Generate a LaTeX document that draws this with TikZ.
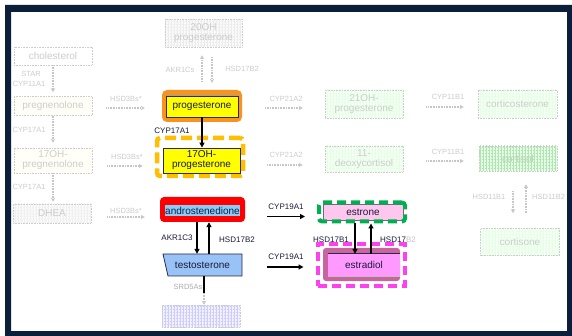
\documentclass[tikz,border=0pt]{standalone}
\usepackage{fontspec}
\setmainfont{Liberation Sans}
\usetikzlibrary{arrows.meta,patterns,calc}
\definecolor{navyC}{HTML}{0B1F3A}
\definecolor{orangeC}{HTML}{F7931E}
\definecolor{goldC}{HTML}{FFBE00}
\definecolor{skyC}{HTML}{87CEFA}
\definecolor{testoC}{HTML}{99C2F7}
\definecolor{pinkC}{HTML}{FFC6EE}
\definecolor{greenC}{HTML}{00B050}
\definecolor{magC}{HTML}{FF40F0}
\definecolor{mauveC}{HTML}{C8649E}
\definecolor{pinkB}{HTML}{FF99FF}
\definecolor{boxline}{HTML}{2B2B45}
\definecolor{txtC}{HTML}{1A1A3A}
\definecolor{yelC}{HTML}{FFFF00}
\begin{document}
\begin{tikzpicture}[x=1pt,y=-1pt,
  fbox/.style={draw=gray!40, densely dotted, line width=0.6pt, text=gray!40,
    font=\fontsize{10}{10}\selectfont, align=center, inner sep=0pt},
  flab/.style={text=gray!40, font=\fontsize{7.5}{8}\selectfont, inner sep=0pt},
  farr/.style={draw=gray!45, line width=1.4pt, dash pattern=on 1pt off 0.6pt,
    -{Stealth[open, length=4pt, width=4.5pt, line width=0.6pt]}},
  mlab/.style={text=txtC, font=\fontsize{8}{9}\selectfont, inner sep=0pt},
  marr/.style={draw=black, line width=1.4pt, -{Triangle[length=5pt, width=5pt]}},
  mtext/.style={font=\fontsize{10}{10}\selectfont, text=txtC, align=center, inner sep=0pt},
  ybox/.style={fill=yelC, draw=boxline, line width=0.8pt, mtext}
]
\useasboundingbox (0,0) rectangle (572,336);
\fill[white] (0,0) rectangle (572,336);

% ---------- faded nodes ----------
\node[fbox, fill=white, minimum width=78pt, minimum height=18pt] (chol) at (53,56) {cholesterol};
\node[fbox, fill=yellow!3, minimum width=78pt, minimum height=19pt] (preg) at (53,106) {pregnenolone};
\node[fbox, fill=yellow!3, minimum width=78pt, minimum height=25pt] (ohpreg) at (53,160.5) {17OH-\\pregnenolone};
\node[fbox, preaction={fill=gray!5}, pattern=grid, pattern color=gray!12, minimum width=78pt, minimum height=19pt] (dhea) at (52,213.5) {DHEA};
\node[fbox, preaction={fill=gray!5}, pattern=grid, pattern color=gray!15, minimum width=77pt, minimum height=28pt] (oh20) at (203.5,33) {20OH\\progesterone};
\node[fbox, preaction={fill=green!4}, pattern=grid, pattern color=green!10, minimum width=78pt, minimum height=28pt] (oh21) at (364,104) {21OH-\\progesterone};
\node[fbox, preaction={fill=green!4}, pattern=grid, pattern color=green!10, minimum width=78pt, minimum height=26pt] (deoxy) at (364,159) {11-\\deoxycortisol};
\node[fbox, preaction={fill=green!4}, pattern=grid, pattern color=green!10, minimum width=79pt, minimum height=28pt] (cortico) at (517.5,104) {corticosterone};
\node[fbox, preaction={fill=green!12}, pattern=grid, pattern color=green!40!gray!40, minimum width=78pt, minimum height=25pt, text=green!20!gray!45] (cortisol) at (518,158.5) {cortisol};
\node[fbox, preaction={fill=green!4}, pattern=grid, pattern color=green!10, minimum width=79pt, minimum height=27pt] (cortisone) at (520,242) {cortisone};
\node[fbox, preaction={fill=blue!6}, pattern=grid, pattern color=blue!20, minimum width=78pt, minimum height=22pt] (dht) at (201,316) {};

% faded labels
\node[flab] at (31,74) {STAR};
\node[flab] at (29,84) {CYP11A1};
\node[flab] at (29,130) {CYP17A1};
\node[flab] at (29,187) {CYP17A1};
\node[flab] at (126,99) {HSD3Bs*};
\node[flab] at (127,157) {HSD3Bs*};
\node[flab] at (126,211) {HSD3Bs*};
\node[flab] at (180,70) {AKR1Cs};
\node[flab] at (242,69) {HSD17B2};
\node[flab] at (286,99) {CYP21A2};
\node[flab] at (286,155) {CYP21A2};
\node[flab] at (448,97) {CYP11B1};
\node[flab] at (448,152) {CYP11B1};
\node[flab] at (489,197) {HSD11B1};
\node[flab, anchor=west] at (532,197) {HSD11B2};

% ---------- main nodes ----------
\node[fill=orangeC, rounded corners=5pt, minimum width=80pt, minimum height=32pt, inner sep=0pt] (progO) at (202,106) {};
\node[ybox, minimum width=72pt, minimum height=21pt] (prog) at (202,106.5) {progesterone};
\draw[gray!75, line width=1.6pt] (prog.north west) -- (prog.north east);

\node[draw=goldC, line width=4.5pt, dash pattern=on 11pt off 5pt, rounded corners=3pt, minimum width=86pt, minimum height=38pt, inner sep=0pt] (ohprogO) at (200,157) {};
\node[ybox, minimum width=77pt, minimum height=25pt] (ohprog) at (201.5,160.5) {17OH-\\progesterone};

\node[fill=red, rounded corners=4pt, minimum width=85pt, minimum height=25pt, inner sep=0pt] (androO) at (202.5,209.5) {};
\node[fill=skyC, minimum width=74pt, minimum height=11pt, mtext] (andro) at (202.5,211) {androstenedione};

\fill[testoC] (163,254) -- (242,254) -- (242,276) -- (168,276) -- cycle;
\draw[boxline, line width=0.8pt] (163,254) -- (242,254) -- (242,276) -- (168,276) -- cycle;
\node[mtext, minimum width=79pt, minimum height=22pt] (testo) at (202.5,265) {testosterone};

\node[fill=pinkC, draw=boxline!70, line width=0.7pt, minimum width=80pt, minimum height=16pt, mtext] (estrone) at (363,212) {estrone};
\node[draw=greenC, line width=4pt, dash pattern=on 9pt off 5pt, rounded corners=3pt, minimum width=86pt, minimum height=19pt, inner sep=0pt] (estroneO) at (362,212) {};

\node[draw=magC, line width=4pt, dash pattern=on 9pt off 5pt, minimum width=87pt, minimum height=42pt, inner sep=0pt] (estradiolO) at (361.5,265) {};
\node[fill=mauveC, rounded corners=3pt, minimum width=77pt, minimum height=33pt, inner sep=0pt] (mauve) at (361.5,264.5) {};
\node[fill=pinkB, minimum width=72pt, minimum height=22pt, mtext] (estradiol) at (364,265) {estradiol};
\draw[boxline, line width=1pt] (estradiol.north west) -- (estradiol.north east);
\draw[gray!50, line width=0.8pt] (estradiol.south west) -- (estradiol.south east);

% main labels
\node[mlab, text=navyC] at (172,131) {CYP17A1};
\node[mlab] at (177,238) {AKR1C3};
\node[mlab] at (237,240) {HSD17B2};
\node[mlab] at (286,207) {CYP19A1};
\node[mlab] at (286,257) {CYP19A1};
\node[mlab] at (331,240) {HSD17B1};
\node[mlab] at (398,240) {HSD17\textcolor{gray!45}{B2}};
\node[flab, text=gray!65] at (188,287) {SRD5As};

% ---------- faded arrows ----------
\draw[farr, shorten >=4pt] (chol.south) -- (preg.north);
\draw[farr, shorten >=5pt] (preg.south) -- (ohpreg.north);
\draw[farr, shorten >=2pt] (ohpreg.south) -- (ohpreg.south |- dhea.north);
\draw[farr] ($(preg.east)+(14,2)$) -- ($(progO.west)+(-17,2)$);
\draw[farr] ($(ohpreg.east)+(15,5.5)$) -- ($(ohprogO.west)+(-12,9)$);
\draw[farr] ($(dhea.east)+(16,3.5)$) -- ($(androO.west)+(-15,7.5)$);
\draw[farr] ($(progO.north)+(0,-8)$) -- ($(oh20.south)+(-1.5,8)$);
\draw[farr] ($(oh20.south)+(8.5,10)$) -- ($(progO.north)+(10,-7)$);
\draw[farr] ($(progO.east)+(23,2)$) -- ($(oh21.west)+(-22,4)$);
\draw[farr] ($(ohprogO.east)+(22,8)$) -- ($(deoxy.west)+(-22,6)$);
\draw[farr] ($(oh21.east)+(23,3)$) -- ($(cortico.west)+(-14,3)$);
\draw[farr] ($(deoxy.east)+(23,2)$) -- ($(cortisol.west)+(-15,2.5)$);
\draw[farr] ($(cortisol.south)+(-5,20)$) -- ($(cortisone.north)+(-7,-15)$);
\draw[farr] ($(cortisone.north)+(6,-15)$) -- ($(cortisol.south)+(8,13)$);

% ---------- main arrows ----------
\draw[marr] (prog.south) -- (prog.south |- ohprog.north);
\draw[marr] ([xshift=-5.5pt]androO.south) -- ([xshift=-5.5pt]androO.south |- testo.north);
\draw[marr] ([xshift=6.5pt]androO.south |- testo.north) -- ([xshift=6.5pt]androO.south);
\draw[marr] ($(androO.east)+(22,7)$) -- ($(estroneO.west)+(-12,4.5)$);
\draw[marr] ($(testo.east)+(25,2)$) -- ($(estradiolO.west)+(-12.5,2)$);
\draw[marr] ([xshift=-7pt]estroneO.south) -- ([xshift=-7pt]estroneO.south |- estradiol.north);
\draw[marr] ([xshift=9pt]estroneO.south |- estradiol.north) -- ([xshift=9pt]estroneO.south);
\coordinate (srd) at (204,293);
\draw[black, line width=1.4pt] (testo.south -| srd) -- (srd);
\draw[farr] (srd) -- (dht.north -| srd);

% ---------- frame ----------
\fill[navyC, even odd rule] (5,5) rectangle (572,336) (11,12) rectangle (567,331);
\end{tikzpicture}
\end{document}
